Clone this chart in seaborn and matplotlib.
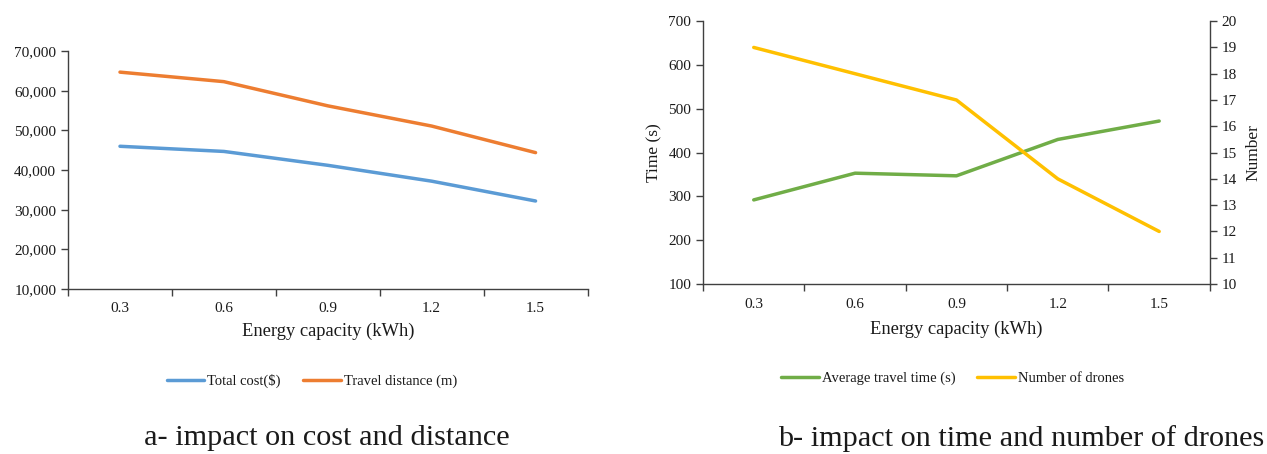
import matplotlib
matplotlib.use("Agg")
import matplotlib.pyplot as plt
import seaborn as sns
import pandas as pd
from matplotlib.ticker import FuncFormatter, FixedLocator

sns.set_theme(style="white")
plt.rcParams['font.family'] = ['Liberation Serif', 'DejaVu Serif']
plt.rcParams['text.color'] = '#1a1a1a'
plt.rcParams['axes.labelcolor'] = '#1a1a1a'
plt.rcParams['xtick.color'] = '#1a1a1a'
plt.rcParams['ytick.color'] = '#1a1a1a'

capacity = ["0.3", "0.6", "0.9", "1.2", "1.5"]
total_cost = [46000, 44700, 41200, 37200, 32200]
travel_distance = [64700, 62300, 56200, 51100, 44400]
avg_time = [292, 353, 347, 430, 472]
num_drones = [19, 18, 17, 14, 12]

BLUE = "#5B9BD5"
ORANGE = "#ED7D31"
GREEN = "#70AD47"
GOLD = "#FFC000"
AX = "#404040"

fig = plt.figure(figsize=(12.67, 4.54), dpi=100)
axa = fig.add_axes([0.0537, 0.3634, 0.410, 0.524])
axb = fig.add_axes([0.5549, 0.3744, 0.400, 0.579])

pos = list(range(len(capacity)))
dfa = pd.DataFrame({"x": pos, "cost": total_cost, "dist": travel_distance})
dfb = pd.DataFrame({"x": pos, "time": avg_time, "n": num_drones})

sns.lineplot(data=dfa, x="x", y="cost", ax=axa, color=BLUE, lw=2.5, label="Total cost($)")
sns.lineplot(data=dfa, x="x", y="dist", ax=axa, color=ORANGE, lw=2.5, label="Travel distance (m)")

def style_cat_axis(ax, pad, labelpad):
    ax.set_xlim(-0.5, len(capacity) - 0.5)
    ax.xaxis.set_major_locator(FixedLocator([i - 0.5 for i in range(len(capacity) + 1)]))
    ax.xaxis.set_minor_locator(FixedLocator(pos))
    ax.set_xticklabels([])
    ax.set_xticklabels(capacity, minor=True, fontsize=11)
    ax.tick_params(axis="x", which="major", length=5, width=1, color=AX, direction="out", bottom=True)
    ax.tick_params(axis="x", which="minor", length=0, pad=pad)
    ax.set_xlabel("Energy capacity (kWh)", fontsize=13.3, labelpad=labelpad)
    for s in ["top", "right"]:
        ax.spines[s].set_visible(False)
    for s in ["left", "bottom"]:
        ax.spines[s].set_color(AX)
        ax.spines[s].set_linewidth(1)
    ax.tick_params(axis="y", which="major", length=5, width=1, color=AX, direction="out", left=True, labelsize=11)

style_cat_axis(axa, 9, 6)
axa.set_ylim(10000, 70000)
axa.set_yticks(range(10000, 70001, 10000))
axa.yaxis.set_major_formatter(FuncFormatter(lambda v, p: f"{int(v):,}"))
axa.set_ylabel("")
axa.legend_.remove()
h, l = axa.get_legend_handles_labels()
fig.legend(h, l, loc="center", bbox_to_anchor=(0.246, 0.161), ncol=2, frameon=False,
           fontsize=10.5, handlelength=2.6, columnspacing=1.5, handletextpad=0.2)

sns.lineplot(data=dfb, x="x", y="time", ax=axb, color=GREEN, lw=2.5, label="Average travel time (s)")
axb2 = axb.twinx()
sns.lineplot(data=dfb, x="x", y="n", ax=axb2, color=GOLD, lw=2.5, label="Number of drones")
style_cat_axis(axb, 10, 7)
axb.set_ylim(100, 700)
axb.set_yticks(range(100, 701, 100))
axb.set_ylabel("Time (s)", fontsize=12.5)
axb2.set_ylim(10, 20)
axb2.set_yticks(range(10, 21))
axb2.set_ylabel("Number", fontsize=12.5, rotation=90, labelpad=6)
for s in ["top", "left", "bottom"]:
    axb2.spines[s].set_visible(False)
axb2.spines["right"].set_color(AX)
axb2.spines["right"].set_linewidth(1)
axb2.tick_params(axis="y", length=5, width=1, color=AX, direction="out", right=True, labelsize=11)
axb.legend_.remove()
axb2.legend_.remove()
h1, l1 = axb.get_legend_handles_labels()
h2, l2 = axb2.get_legend_handles_labels()
fig.legend(h1 + h2, l1 + l2, loc="center", bbox_to_anchor=(0.752, 0.167), ncol=2, frameon=False,
           fontsize=10.5, handlelength=2.6, columnspacing=1.5, handletextpad=0.2)

fig.text(0.258, 0.035, "a- impact on cost and distance", ha="center", va="center", fontsize=21.8)
fig.text(0.806, 0.035, "b- impact on time and number of drones", ha="center", va="center", fontsize=21.8)

fig.savefig("out.png", dpi=100)
